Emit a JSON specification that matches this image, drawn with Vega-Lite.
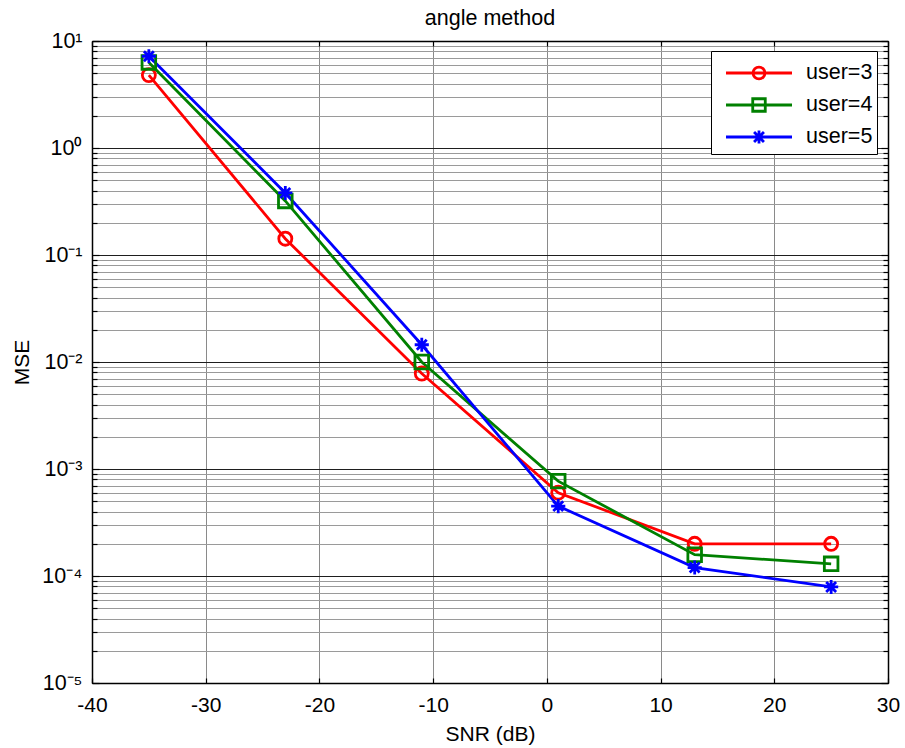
{
  "$schema": "https://vega.github.io/schema/vega-lite/v6.json",
  "width": 796,
  "height": 642,
  "autosize": "none",
  "padding": {"left": 92, "top": 41, "right": 17, "bottom": 65},
  "background": "white",
  "title": {"text": "angle method", "fontSize": 21.5, "font": "Liberation Sans", "fontWeight": "normal", "color": "black", "offset": 1},
  "data": {
    "values": [
      {"snr": -35, "mse": 4.8, "user": "user=3"},
      {"snr": -23, "mse": 0.142, "user": "user=3"},
      {"snr": -11, "mse": 0.0078, "user": "user=3"},
      {"snr": 1, "mse": 0.0006, "user": "user=3"},
      {"snr": 13, "mse": 0.0002, "user": "user=3"},
      {"snr": 25, "mse": 0.0002, "user": "user=3"},
      {"snr": -35, "mse": 6.3, "user": "user=4"},
      {"snr": -23, "mse": 0.32, "user": "user=4"},
      {"snr": -11, "mse": 0.01, "user": "user=4"},
      {"snr": 1, "mse": 0.00077, "user": "user=4"},
      {"snr": 13, "mse": 0.000158, "user": "user=4"},
      {"snr": 25, "mse": 0.00013, "user": "user=4"},
      {"snr": -35, "mse": 7.2, "user": "user=5"},
      {"snr": -23, "mse": 0.38, "user": "user=5"},
      {"snr": -11, "mse": 0.0145, "user": "user=5"},
      {"snr": 1, "mse": 0.00045, "user": "user=5"},
      {"snr": 13, "mse": 0.00012, "user": "user=5"},
      {"snr": 25, "mse": 0.000079, "user": "user=5"}
    ]
  },
  "layer": [
    {
      "mark": {"type": "point", "filled": false, "opacity": 0},
      "encoding": {
        "x": {
          "field": "snr", "type": "quantitative",
          "scale": {"domain": [-40, 30], "nice": false, "zero": false},
          "axis": {"orient": "top", "title": null, "labels": false, "grid": false, "tickSize": -5, "values": [-40, -30, -20, -10, 0, 10, 20, 30]}
        },
        "y": {
          "field": "mse", "type": "quantitative",
          "scale": {"type": "log", "domain": [0.00001, 10], "nice": false},
          "axis": {
            "orient": "right", "title": null, "labels": false, "grid": false,
            "values": [0.00001, 0.00002, 0.00003, 0.00004, 0.00005, 0.00006, 0.00007, 0.00008, 0.00009,
                       0.0001, 0.0002, 0.0003, 0.0004, 0.0005, 0.0006, 0.0007, 0.0008, 0.0009,
                       0.001, 0.002, 0.003, 0.004, 0.005, 0.006, 0.007, 0.008, 0.009,
                       0.01, 0.02, 0.03, 0.04, 0.05, 0.06, 0.07, 0.08, 0.09,
                       0.1, 0.2, 0.3, 0.4, 0.5, 0.6, 0.7, 0.8, 0.9,
                       1, 2, 3, 4, 5, 6, 7, 8, 9, 10],
            "tickSize": {"condition": {"test": "abs(log(datum.value)/LN10 - round(log(datum.value)/LN10)) < 0.001", "value": -7}, "value": -5}
          }
        },
        "color": {
          "field": "user", "type": "nominal",
          "scale": {"domain": ["user=3", "user=4", "user=5"], "range": ["#ff0000", "#008000", "#0000ff"]},
          "legend": {"orient": "none", "legendX": 619, "legendY": 10, "title": null}
        },
        "shape": {
          "field": "user", "type": "nominal",
          "scale": {
            "domain": ["user=3", "user=4", "user=5"],
            "range": [
              "M-2,0H2M0.36,0A0.36,0.36 0 1,1 -0.36,0A0.36,0.36 0 1,1 0.36,0",
              "M-2,0H2M-0.38,-0.38H0.38V0.38H-0.38Z",
              "M-2,0H2M0,-0.4V0.4M-0.3,-0.3L0.3,0.3M-0.3,0.3L0.3,-0.3"
            ]
          },
          "legend": {"orient": "none", "legendX": 619, "legendY": 10, "title": null}
        }
      }
    },
    {
      "mark": {"type": "line", "strokeWidth": 2.8},
      "encoding": {
        "x": {
          "field": "snr", "type": "quantitative",
          "axis": {
            "orient": "bottom", "title": "SNR (dB)", "values": [-40, -30, -20, -10, 0, 10, 20, 30],
            "labelExpr": "'' + datum.value", "labelFlush": false,
            "grid": true, "gridColor": "#8a8a8a", "gridWidth": 1,
            "tickSize": -5, "labelPadding": 16, "titlePadding": 8
          }
        },
        "y": {
          "field": "mse", "type": "quantitative",
          "axis": {
            "orient": "left", "title": "MSE",
            "values": [0.00001, 0.00002, 0.00003, 0.00004, 0.00005, 0.00006, 0.00007, 0.00008, 0.00009,
                       0.0001, 0.0002, 0.0003, 0.0004, 0.0005, 0.0006, 0.0007, 0.0008, 0.0009,
                       0.001, 0.002, 0.003, 0.004, 0.005, 0.006, 0.007, 0.008, 0.009,
                       0.01, 0.02, 0.03, 0.04, 0.05, 0.06, 0.07, 0.08, 0.09,
                       0.1, 0.2, 0.3, 0.4, 0.5, 0.6, 0.7, 0.8, 0.9,
                       1, 2, 3, 4, 5, 6, 7, 8, 9, 10],
            "grid": true, "labelFlush": false,
            "gridColor": {"condition": {"test": "abs(log(datum.value)/LN10 - round(log(datum.value)/LN10)) < 0.001", "value": "#1e1e1e"}, "value": "#9a9a9a"},
            "tickSize": {"condition": {"test": "abs(log(datum.value)/LN10 - round(log(datum.value)/LN10)) < 0.001", "value": -7}, "value": -5},
            "labelExpr": "abs(log(datum.value)/LN10 - round(log(datum.value)/LN10)) < 0.001 ? (datum.value > 5 ? '10¹' : datum.value > 0.5 ? '10⁰' : datum.value > 0.05 ? '10⁻¹' : datum.value > 0.005 ? '10⁻²' : datum.value > 0.0005 ? '10⁻³' : datum.value > 0.00005 ? '10⁻⁴' : '10⁻⁵') : ''",
            "labelFontSize": 21.5, "labelPadding": 17, "titlePadding": 9
          }
        },
        "color": {"field": "user", "type": "nominal"}
      }
    },
    {
      "mark": {"type": "point", "filled": false, "opacity": 1, "strokeWidth": 2.8},
      "encoding": {
        "x": {"field": "snr", "type": "quantitative", "axis": null},
        "y": {"field": "mse", "type": "quantitative", "axis": null},
        "color": {"field": "user", "type": "nominal"},
        "shape": {
          "condition": [
            {"test": "datum.user === 'user=3'", "value": "circle"},
            {"test": "datum.user === 'user=4'", "value": "square"}
          ],
          "value": "M-1,0H1M0,-1V1M-0.7,-0.7L0.7,0.7M-0.7,0.7L0.7,-0.7"
        },
        "size": {
          "condition": [
            {"test": "datum.user === 'user=3'", "value": 170},
            {"test": "datum.user === 'user=4'", "value": 185}
          ],
          "value": 200
        }
      }
    }
  ],
  "resolve": {"axis": {"x": "independent", "y": "independent"}},
  "config": {
    "view": {"stroke": "black", "strokeWidth": 1},
    "font": "Liberation Sans",
    "axis": {
      "labelFont": "Liberation Sans", "labelFontSize": 21, "labelColor": "black",
      "titleFont": "Liberation Sans", "titleFontSize": 21, "titleFontWeight": "normal", "titleColor": "black",
      "domainColor": "black", "domainWidth": 1.5, "tickColor": "black", "tickWidth": 1.2
    },
    "legend": {
      "strokeColor": "black", "fillColor": "white", "padding": 4,
      "labelFont": "Liberation Sans", "labelFontSize": 21.5, "labelColor": "black",
      "symbolSize": 1089, "symbolStrokeWidth": 2.8, "symbolOpacity": 1, "symbolFillColor": "transparent",
      "symbolOffset": 26, "labelOffset": 29, "rowPadding": 2, "cornerRadius": 0
    }
  }
}
